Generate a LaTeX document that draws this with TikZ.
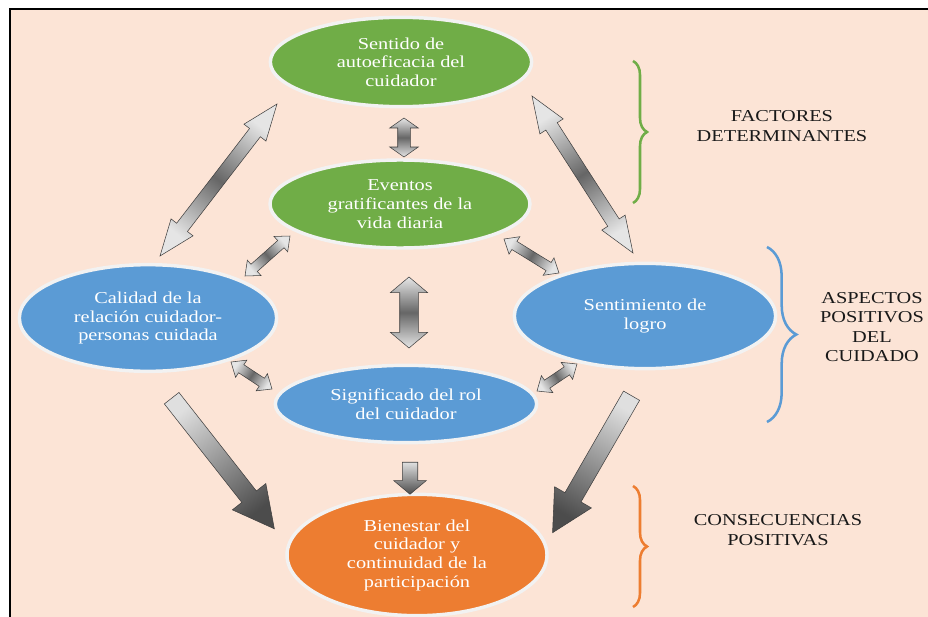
\documentclass[tikz,border=0pt]{standalone}
\usepackage{fontspec}
\setmainfont{Liberation Serif}[FakeStretch=1.22]
\usetikzlibrary{shapes.geometric,shapes.arrows,decorations.pathreplacing,calc}

\definecolor{peach}{HTML}{FCE4D6}
\definecolor{factorgreen}{HTML}{70AD47}
\definecolor{aspectblue}{HTML}{5B9BD5}
\definecolor{resultorange}{HTML}{ED7D31}
\definecolor{bubbleline}{HTML}{F2F2F2}

\tikzset{
	bubble/.style={ellipse, draw=bubbleline, line width=2.6pt, text=white, align=center, inner sep=0pt, font=\fontsize{12.5}{14}\selectfont},
	factor/.style={bubble, fill=factorgreen},
	aspect/.style={bubble, fill=aspectblue},
	result/.style={bubble, fill=resultorange},
	twoarrow/.style={double arrow, draw=black!75, line width=0.4pt, inner sep=0pt, top color=gray!20, bottom color=gray!20, middle color=black!60},
	onearrow/.style={single arrow, draw=black!75, line width=0.4pt, inner sep=0pt, top color=black!70, bottom color=gray!25},
	tag/.style={align=center, text=black!90, font=\fontsize{12.5}{14.6}\selectfont},
	bracket/.style={decorate, line width=1.9pt}
}

% double arrow between two named points: from, to, half shaft, head extend, tip angle
\newcommand\twoway[5]{%
	\path let \p1=(#1), \p2=(#2), \n1={atan2(\y2-\y1,\x2-\x1)}, \n2={veclen(\x2-\x1,\y2-\y1)} in
		node[twoarrow, rotate=\n1, shading angle=\n1-90, minimum height=\n2, inner ysep=#3, double arrow head extend=#4, double arrow tip angle=#5] at ($(#1)!0.5!(#2)$) {};%
}
% single arrow, same arguments
\newcommand\oneway[5]{%
	\path let \p1=(#1), \p2=(#2), \n1={atan2(\y2-\y1,\x2-\x1)}, \n2={veclen(\x2-\x1,\y2-\y1)} in
		node[onearrow, rotate=\n1, shading angle=\n1-90, minimum height=\n2, inner ysep=#3, single arrow head extend=#4, single arrow tip angle=#5] at ($(#1)!0.5!(#2)$) {};%
}

\begin{document}
\begin{tikzpicture}[x=0.75pt, y=-0.75pt]
	\useasboundingbox (0,0) rectangle (928,617);
	\fill[peach] (10,9) rectangle (932,620);
	\draw[line width=1.1pt] (10,620) -- (10,9) -- (932,9);

	% bubbles
	\node[factor, minimum width=196pt, minimum height=67pt] (sentido) at (401,62) {Sentido de\\autoeficacia del\\cuidador};
	\node[factor, minimum width=195pt, minimum height=66pt] (eventos) at (400,204) {Eventos\\gratificantes de la\\vida diaria};
	\node[aspect, minimum width=193pt, minimum height=80pt] (calidad) at (148,318) {Calidad de la\\relación cuidador-\\personas cuidada};
	\node[aspect, minimum width=196pt, minimum height=79pt] (logro) at (645,316) {Sentimiento de\\logro};
	\node[aspect, minimum width=196pt, minimum height=58pt] (rol) at (406,404) {Significado del rol\\del cuidador};
	\node[result, minimum width=195pt, minimum height=91pt] (bienestar) at (417,555) {Bienestar del\\cuidador y\\continuidad de la\\participación};

	% arrow ends
	\coordinate (sen-s) at (404,118);
	\coordinate (eve-n) at (404,157);
	\coordinate (sen-sw) at (277,104);
	\coordinate (cal-n) at (160,256);
	\coordinate (sen-se) at (532,96);
	\coordinate (log-n) at (633,253);
	\coordinate (eve-sw) at (290,236);
	\coordinate (cal-ne) at (245,276);
	\coordinate (eve-se) at (504,239);
	\coordinate (log-nw) at (559,273);
	\coordinate (eve-s) at (409,277);
	\coordinate (rol-n) at (409,348);
	\coordinate (cal-se) at (231,362);
	\coordinate (rol-nw) at (272,389);
	\coordinate (rol-ne) at (537,391);
	\coordinate (log-sw) at (577,364);
	\coordinate (cal-s) at (166,391);
	\coordinate (bie-nw) at (269,522);
	\coordinate (log-s) at (636,388);
	\coordinate (bie-ne) at (557,525);
	\coordinate (rol-s) at (410,459);
	\coordinate (bie-n) at (410,491);

	\twoway{sen-s}{eve-n}{4.5pt}{6pt}{110}
	\twoway{sen-sw}{cal-n}{4.9pt}{5.3pt}{42}
	\twoway{sen-se}{log-n}{4.9pt}{5.3pt}{42}
	\twoway{eve-sw}{cal-ne}{3.4pt}{4.1pt}{80}
	\twoway{eve-se}{log-nw}{3.4pt}{4.1pt}{80}
	\twoway{eve-s}{rol-n}{6.75pt}{7.1pt}{100}
	\twoway{cal-se}{rol-nw}{3.4pt}{4.1pt}{80}
	\twoway{rol-ne}{log-sw}{3.4pt}{4.1pt}{80}
	\oneway{cal-s}{bie-nw}{6.75pt}{9pt}{55}
	\oneway{log-s}{bie-ne}{6.75pt}{9pt}{55}
	\oneway{rol-s}{bie-n}{5.6pt}{6.4pt}{100}

	% braces and their labels
	\draw[bracket, factorgreen, decoration={brace, amplitude=10.5pt}] (633,61) -- (633,203);
	\draw[bracket, aspectblue, decoration={brace, amplitude=22pt}] (767,247) -- (767,422);
	\draw[bracket, resultorange, decoration={brace, amplitude=10.5pt}] (633,486) -- (633,607);

	\node[tag] (factores) at (782,126) {FACTORES\\DETERMINANTES};
	\node[tag] (aspectos) at (872,327) {ASPECTOS\\POSITIVOS\\DEL\\CUIDADO};
	\node[tag] (consecuencias) at (778,530) {CONSECUENCIAS\\POSITIVAS};
\end{tikzpicture}
\end{document}
